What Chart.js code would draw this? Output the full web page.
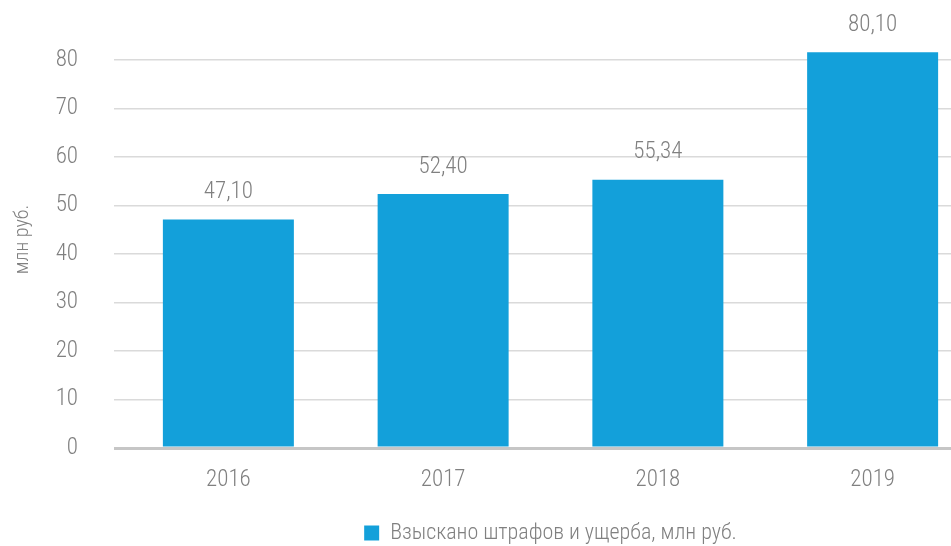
<!DOCTYPE html>
<html>
<head>
<meta charset="utf-8">
<script src="https://cdn.jsdelivr.net/npm/chart.js@4.4.1/dist/chart.umd.min.js"></script>
<style>
    html, body { margin: 0; padding: 0; background: #fff; overflow: hidden; }
    #wrap { width: 951px; height: 546px; overflow: hidden; }
</style>
</head>
<body>
<div id="wrap"><canvas id="fineChart" width="1000" height="554"></canvas></div>
<script>
// data
const years = ['2016', '2017', '2018', '2019'];
const collected = [47.10, 52.40, 55.34, 81.6];
const valueLabels = ['47,10', '52,40', '55,34', '80,10'];
const yTicks = [0, 10, 20, 30, 40, 50, 60, 70, 80];
const seriesName = 'Взыскано штрафов и ущерба, млн руб.';
const axisTitle = 'млн руб.';

const FONT = "'Roboto Condensed', 'Liberation Sans Narrow', 'DejaVu Sans Condensed', 'Roboto', sans-serif";
const GREY = '#808080';
const BLUE = '#13a0da';

// labels over the bars
const valueLabelPlugin = {
    id: 'valueLabels',
    afterDatasetsDraw(chart) {
        const ctx = chart.ctx;
        const meta = chart.getDatasetMeta(0);
        ctx.save();
        ctx.font = '300 23px ' + FONT;
        ctx.fillStyle = GREY;
        ctx.textAlign = 'center';
        ctx.textBaseline = 'middle';
        meta.data.forEach(function(bar, i) {
            ctx.fillText(valueLabels[i], bar.x, bar.y - 27);
        });
        ctx.restore();
    }
};

var ctx = document.getElementById('fineChart').getContext('2d');
var chart = new Chart(ctx, {
    type: 'bar',
    data: {
        labels: years,
        datasets: [{
            label: seriesName,
            data: collected,
            backgroundColor: BLUE,
            borderWidth: 0,
            categoryPercentage: 1,
            barPercentage: 0.61
        }]
    },
    options: {
        responsive: false,
        animation: false,
        layout: { padding: { top: 31, right: 20, left: 0, bottom: 0 } },
        plugins: {
            tooltip: { enabled: false },
            legend: {
                position: 'bottom',
                fullSize: false,
                labels: {
                    boxWidth: 15,
                    boxHeight: 15,
                    padding: 3,
                    color: GREY,
                    font: { family: FONT, size: 22, weight: '300' }
                }
            }
        },
        scales: {
            x: {
                grid: { display: false },
                border: { display: false },
                ticks: {
                    color: GREY,
                    padding: 10,
                    font: { family: FONT, size: 23, weight: '300' }
                },
                afterFit: function(scale) { scale.height = 71; }
            },
            y: {
                min: 0,
                max: 86,
                afterBuildTicks: function(scale) {
                    scale.ticks = yTicks.map(function(v) { return { value: v }; });
                },
                afterFit: function(scale) {
                    scale.width = 121;
                    scale.paddingTop = 0;
                    scale.paddingBottom = 0;
                },
                border: { display: false },
                grid: {
                    color: function(c) { return c.tick && c.tick.value === 0 ? '#c6c6c6' : '#dadada'; },
                    lineWidth: function(c) { return c.tick && c.tick.value === 0 ? 3 : 1.5; },
                    drawTicks: true,
                    tickLength: 7
                },
                ticks: {
                    color: GREY,
                    padding: 36,
                    font: { family: FONT, size: 23, weight: '300' }
                },
                title: {
                    display: true,
                    text: axisTitle,
                    color: GREY,
                    padding: { top: 11, bottom: 0 },
                    font: { family: FONT, size: 20, weight: '300' }
                }
            }
        }
    },
    plugins: [valueLabelPlugin]
});
</script>
</body>
</html>
